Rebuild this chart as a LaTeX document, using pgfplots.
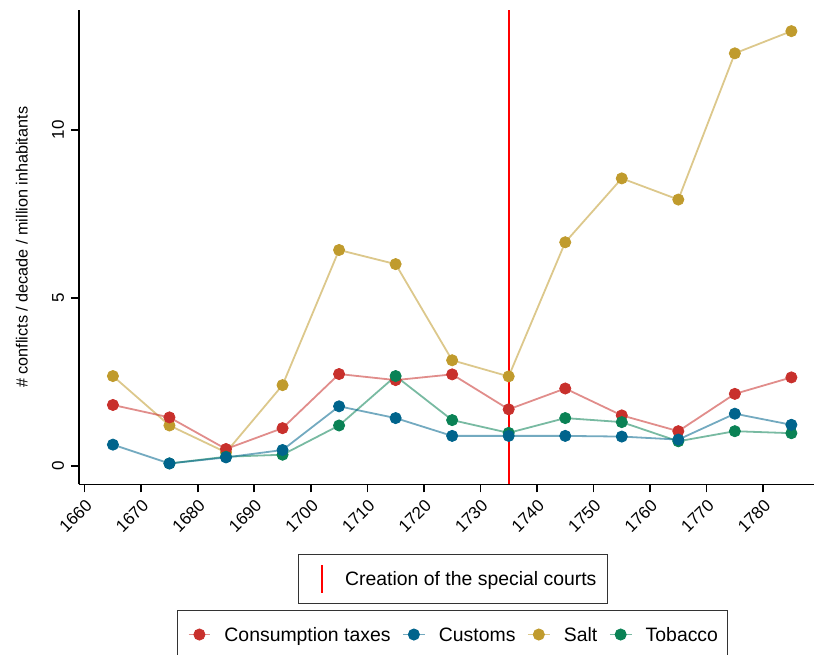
\documentclass[border=0pt]{standalone}
\usepackage{pgfplots}
\pgfplotsset{compat=1.18}
\usepackage{pgfplotstable}
\usepackage{fontspec}
\setmainfont{Liberation Sans}
\definecolor{cR}{RGB}{200,48,44}
\definecolor{cB}{RGB}{0,100,140}
\definecolor{cS}{RGB}{192,155,45}
\definecolor{cT}{RGB}{10,130,85}

\pgfplotstableread{
year cons cust salt tob
1665 1.82 0.64 2.68 nan
1675 1.45 0.08 1.21 0.08
1685 0.51 0.26 0.41 0.28
1695 1.13 0.48 2.41 0.34
1705 2.74 1.78 6.43 1.21
1715 2.56 1.43 6.01 2.68
1725 2.73 0.90 3.15 1.37
1735 1.69 0.90 2.67 0.99
1745 2.31 0.90 6.66 1.43
1755 1.51 0.88 8.56 1.31
1765 1.04 0.79 7.93 0.74
1775 2.15 1.56 12.28 1.04
1785 2.64 1.23 12.94 0.98
}\data

\pgfplotsset{
  base/.style={width=367.5pt, height=237pt, scale only axis,
    xmin=1659, xmax=1789, ymin=-0.54, ymax=13.56,
    at={(0,0)}, anchor=south west},
  ser/.style={color=#1, line width=0.9pt, draw opacity=0.55, mark=*, mark size=2.8pt,
    mark options={solid, draw opacity=1, fill opacity=1, line width=0.4pt}},
}

\begin{document}
\begin{tikzpicture}
\path[use as bounding box] (-39.5pt,-84.85pt) rectangle (367.5pt,242.15pt);
\clip (-39.5pt,-84.85pt) rectangle (367.5pt,242.15pt);
% background axis: vertical line and its legend
\begin{axis}[base, hide axis,
  legend style={at={(0.5082,-0.147)}, anchor=north, draw=black!80, line width=0.5pt,
    inner xsep=5.3pt, inner ysep=4.85pt,
    font=\fontsize{9.7}{11}\selectfont,
    nodes={inner sep=0pt, text height=7pt, text depth=0pt},
    /tikz/every odd column/.style={column sep=4.9pt},
    /tikz/every even column/.style={column sep=0pt}},
  legend image code/.code={\path[draw=none] (0pt,0pt) -- (13.4pt,0pt); \draw[#1] (6.7pt,-6.9pt) -- (6.7pt,6.9pt);}]
\addplot[red, line width=1pt] coordinates {(1735,-0.54) (1735,13.56)};
\addlegendentry{Creation of the special courts}
\end{axis}
% main axis
\begin{axis}[base, axis lines*=left,
  axis line style={line width=0.8pt, black},
  tick align=outside, major tick length=4pt,
  tick style={line width=0.8pt, black},
  xtick={1660,1670,...,1780}, ytick={0,5,10},
  /pgf/number format/assume math mode=true,
  /pgf/number format/1000 sep={},
  xticklabel style={rotate=45, anchor=north east, font=\fontsize{8.5}{10}\selectfont, inner sep=2pt},
  yticklabel style={rotate=90, anchor=south, font=\fontsize{8.5}{10}\selectfont},
  every axis y label/.style={at={(axis description cs:-0.0776,0.5)}, rotate=90, anchor=center, font=\fontsize{8.1}{10}\selectfont},
  ylabel={\# conflicts / decade / million inhabitants},
  legend columns=4,
  legend style={at={(0.5086,-0.2646)}, anchor=north, draw=black!80, line width=0.5pt,
    inner xsep=5pt, inner ysep=8.65pt,
    font=\fontsize{9.7}{11}\selectfont,
    nodes={inner sep=0pt, text height=7pt, text depth=0pt},
    /tikz/every odd column/.style={column sep=6.65pt},
    /tikz/every even column/.style={column sep=5.8pt}},
  legend image code/.code={\draw[mark repeat=2, mark phase=2, #1] plot coordinates {(0pt,0pt) (5.425pt,0pt) (10.85pt,0pt)};}]
\addlegendimage{ser=cR}
\addlegendentry{Consumption taxes}
\addlegendimage{ser=cB}
\addlegendentry{Customs}
\addlegendimage{ser=cS}
\addlegendentry{Salt}
\addlegendimage{ser=cT}
\addlegendentry{Tobacco}
\addplot[ser=cS, forget plot] table[x=year, y=salt] {\data};
\addplot[ser=cR, forget plot] table[x=year, y=cons] {\data};
\addplot[ser=cT, forget plot] table[x=year, y=tob] {\data};
\addplot[ser=cB, forget plot] table[x=year, y=cust] {\data};
\end{axis}
\end{tikzpicture}
\end{document}
